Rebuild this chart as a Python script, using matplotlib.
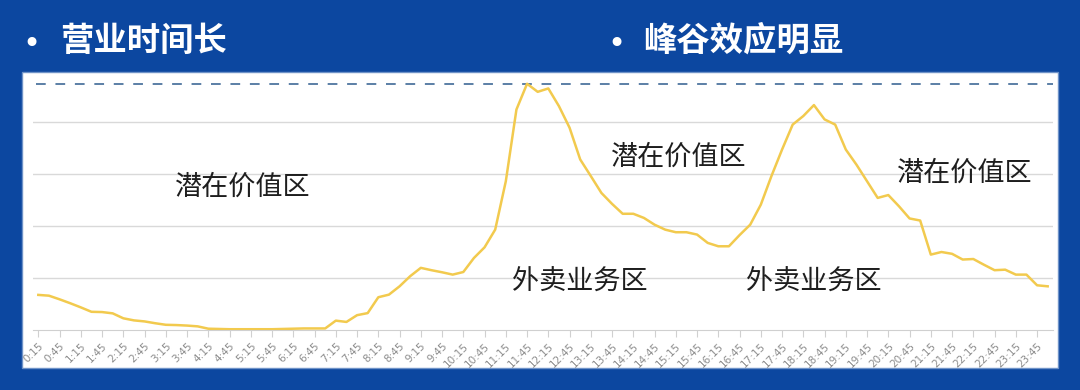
import matplotlib
matplotlib.use("Agg")
import matplotlib.pyplot as plt
from matplotlib.patches import Rectangle

plt.rcParams['font.family'] = ['Noto Sans CJK SC', 'DejaVu Sans']

# 15-minute slots from 0:15 to 24:00
times = [f"{(m // 60)}:{m % 60:02d}" for m in range(15, 24 * 60 + 1, 15)]

# order volume per slot (relative units)
orders = [
    13.5, 13.2, 11.8, 10.3, 8.7, 7.0, 6.9, 6.4, 4.5, 3.7, 3.3, 2.6,
    2.0, 1.9, 1.7, 1.4, 0.5, 0.4, 0.3, 0.3, 0.3, 0.3, 0.3, 0.4,
    0.5, 0.6, 0.6, 0.6, 3.6, 3.1, 5.7, 6.5, 12.6, 13.6, 16.8, 20.7,
    23.9, 23.0, 22.2, 21.3, 22.3, 27.7, 31.8, 38.6, 57.2, 84.8, 94.7, 91.6,
    92.9, 86.1, 77.8, 65.6, 59.2, 52.7, 48.5, 44.7, 44.7, 43.1, 40.5, 38.6,
    37.6, 37.6, 36.7, 33.5, 32.2, 32.2, 36.5, 40.5, 48.2, 59.2, 69.4, 79.0,
    82.3, 86.5, 81.0, 79.0, 69.4, 63.6, 57.2, 50.8, 51.9, 47.6, 42.9, 42.1,
    29.0, 30.0, 29.3, 27.1, 27.3, 25.1, 23.0, 23.2, 21.3, 21.3, 17.2, 16.8,
]

headings = ["营业时间长", "峰谷效应明显"]
zone_labels = ["潜在价值区", "潜在价值区", "潜在价值区", "外卖业务区", "外卖业务区"]
# (slot index, value) where each zone label sits
zone_pos = [(19.2, 54.8), (60.3, 66.5), (87.2, 60.4), (51.0, 18.2), (73.0, 18.2)]

BLUE = "#0c47a0"
W, H = 1080, 390

fig = plt.figure(figsize=(10.8, 3.9), dpi=100, facecolor=BLUE)

# white panel behind the chart
fig.add_artist(Rectangle((22 / W, (H - 368) / H), (1058 - 22) / W, (368 - 72) / H,
                         transform=fig.transFigure, facecolor="white",
                         edgecolor="#6f93c8", linewidth=1, zorder=0))

# headings with bullets
for bx, tx, text in [(31, 60, headings[0]), (616, 643, headings[1])]:
    fig.text(bx / W, 1 - 44 / H, "•", color="white", fontsize=22,
             ha="center", va="center", family="DejaVu Sans")
    fig.text(tx / W, 1 - 41 / H, text, color="white", fontsize=24,
             fontweight="bold", ha="left", va="center")

ymax = 98
ax = fig.add_axes([33 / W, (H - 330) / H, (1053 - 33) / W, (ymax / 0.3846) / H])
ax.set_facecolor("none")
x = list(range(len(orders)))

ax.set_xlim(-0.5, len(orders) - 0.5)
ax.set_ylim(0, ymax)

for g in [20, 40, 60, 80]:
    ax.axhline(g, color="#d9d9d9", lw=1, zorder=1)
ax.axhline(max(orders), color="#5b7fa6", lw=1.4, dashes=(5, 5), zorder=2, xmin=0.003)

ax.plot(x, orders, color="#f2ca4e", lw=1.8, zorder=3, solid_joinstyle="round")

for (px, py), lab in zip(zone_pos, zone_labels):
    ax.text(px, py, lab, fontsize=19.5, color="#1e1e1e", ha="center", va="center")

for s in ["top", "right", "left"]:
    ax.spines[s].set_visible(False)
ax.spines["bottom"].set_color("#d0d0d0")
ax.set_yticks([])
ax.set_xticks(x[::2])
ax.set_xticklabels(times[::2], rotation=45, ha="right", rotation_mode="anchor",
                   fontsize=7.5, color="#8c8c8c", family="DejaVu Sans")
ax.tick_params(axis="x", length=5, color="#d0d0d0", pad=3)

fig.savefig("out.png", dpi=100, facecolor=BLUE)
